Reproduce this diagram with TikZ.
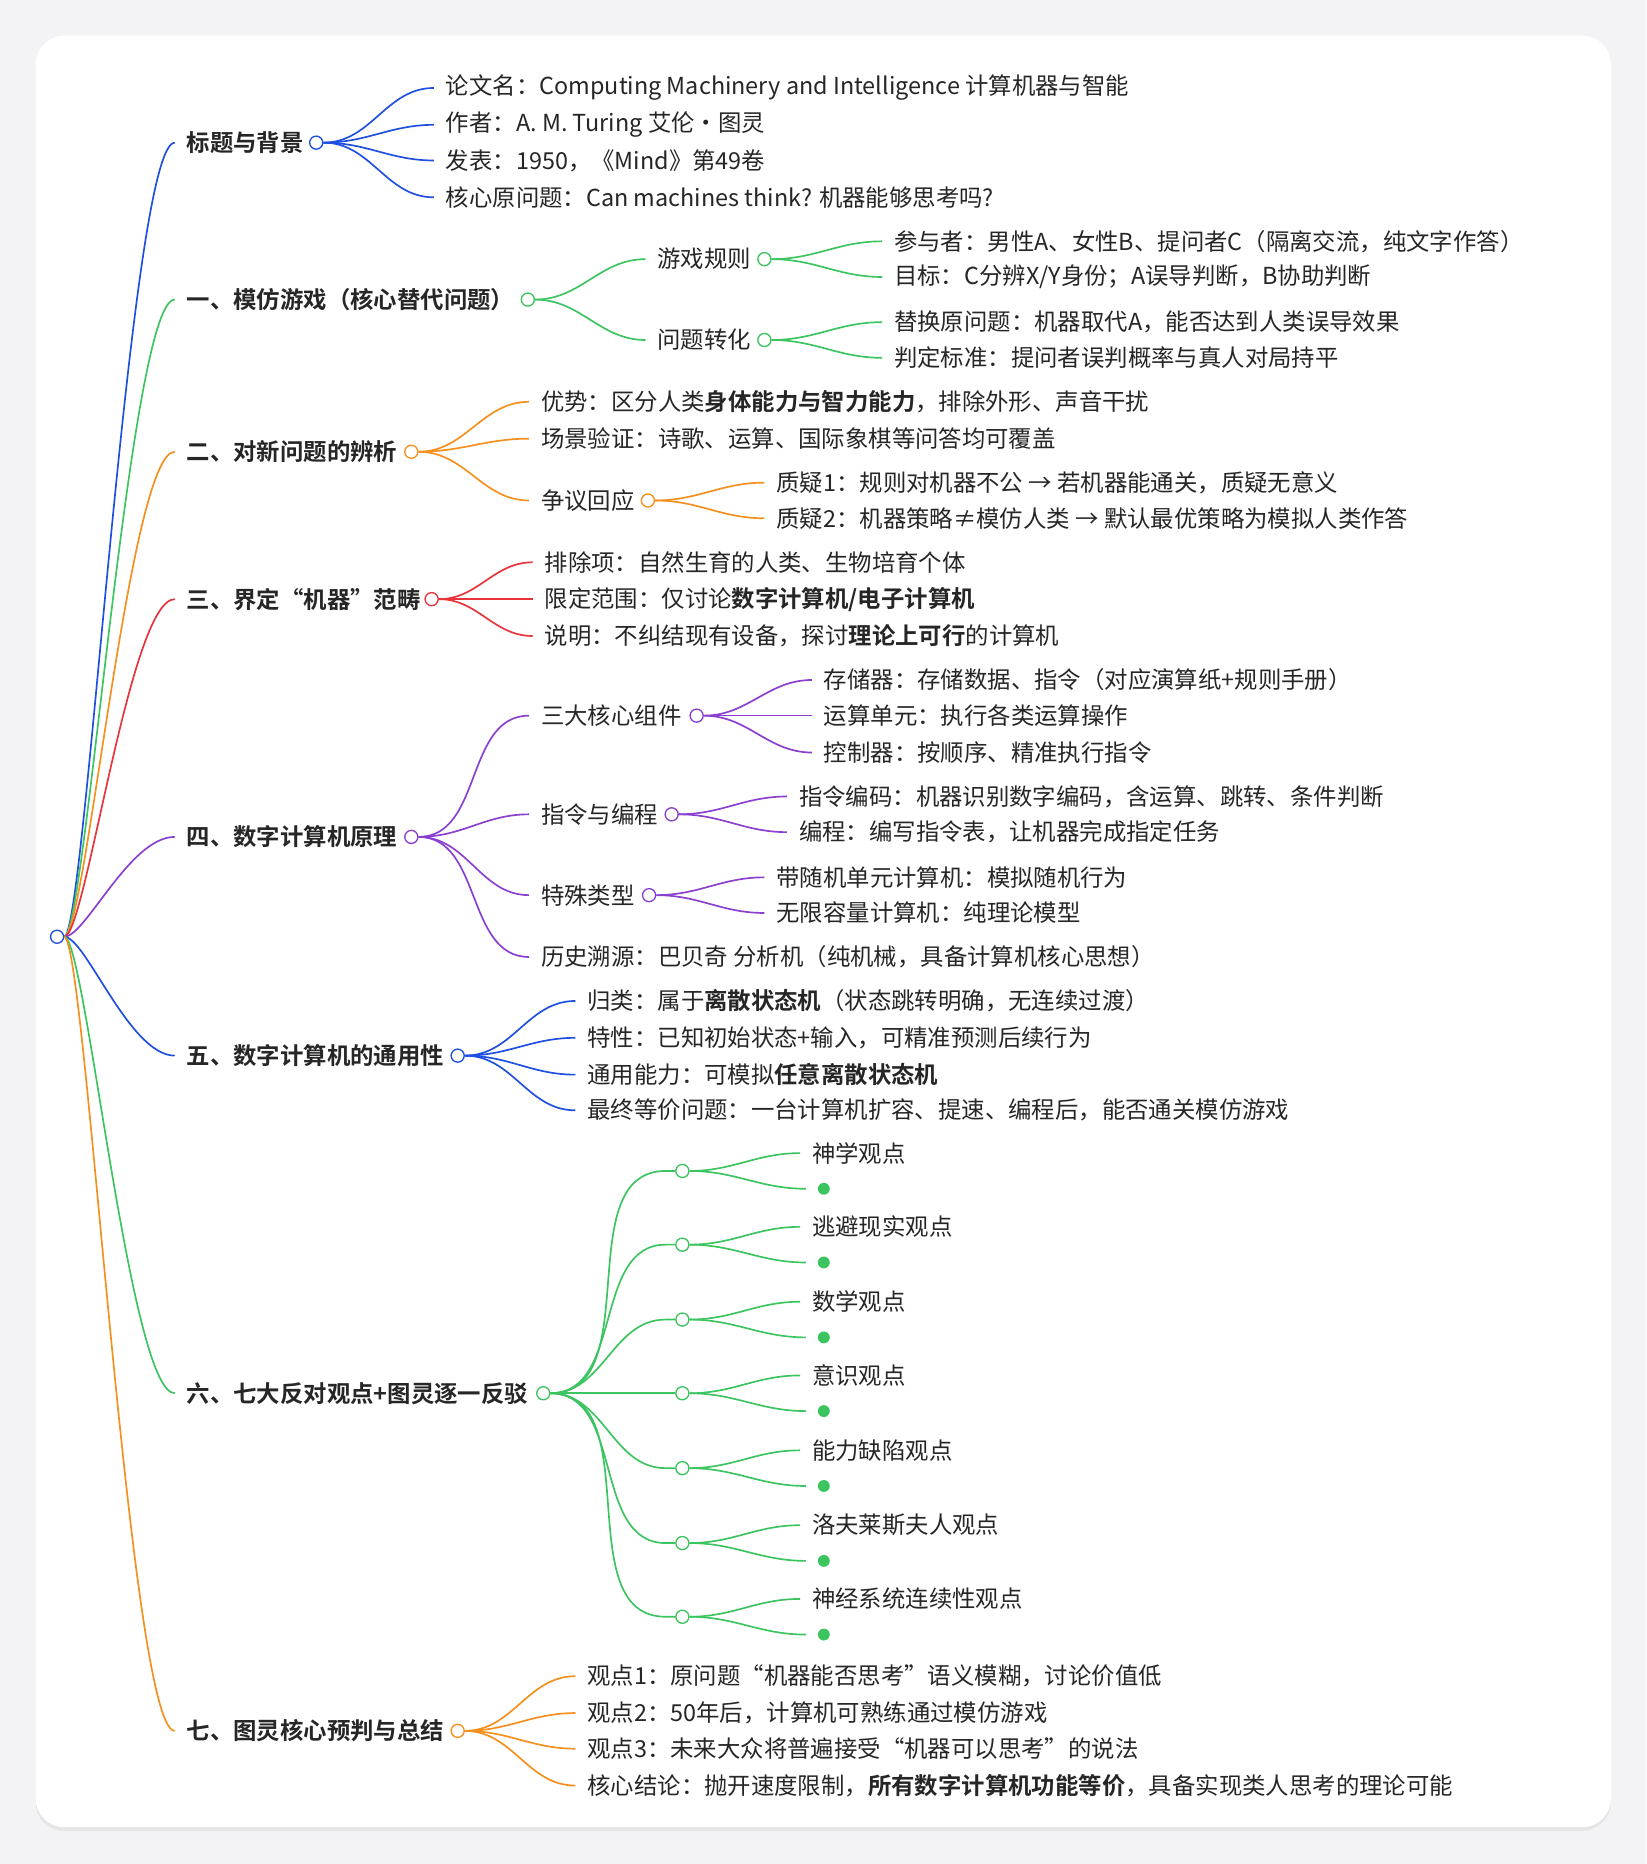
\documentclass[tikz,border=0pt]{standalone}
\usepackage{fontspec}
\setmainfont{Noto Sans CJK SC}[BoldFont={Noto Sans CJK SC Bold}]
\usetikzlibrary{shadows,calc}
\definecolor{cb}{HTML}{1F4FE0}
\definecolor{cg}{HTML}{3CC460}
\definecolor{co}{HTML}{F5901E}
\definecolor{cr}{HTML}{E8333A}
\definecolor{cp}{HTML}{8A3FD1}
\definecolor{bg}{HTML}{F3F3F5}
\newcommand\lf[5]{\node[txt] (#1) at (#4) {#5};
  \draw[con,#2] (#3.east) to[out=0,in=180] ([xshift=-0.5cm]#1.west);}
\newcommand\dotc[4]{\node[dotn,draw=#2] (#1) at (#4) {};
  \draw[con,#2] (#3.east) to[out=0,in=180] ([xshift=-0.4cm]#1.west) -- (#1.west);}
\begin{document}
\begin{tikzpicture}[x=0.05cm,y=-0.05cm,
  txt/.style={anchor=west,inner sep=0pt,font=\fontsize{28}{32}\selectfont,text=black!85},
  l1/.style={txt,font=\fontsize{28}{32}\selectfont\bfseries},
  con/.style={line width=2pt},
  dotn/.style={circle,draw,fill=white,line width=1.6pt,minimum size=0.55cm,inner sep=0pt},
  gdot/.style={circle,fill=cg,minimum size=0.5cm,inner sep=0pt}]
\useasboundingbox (0,0) rectangle (1385,1568);
\fill[bg] (0,0) rectangle (1385,1568);
\fill[white,rounded corners=1.2cm,drop shadow={shadow xshift=0cm,shadow yshift=-0.15cm,opacity=0.12}] (30,30) rectangle (1355,1537);
\node[dotn,draw=cb] (root) at (48,788) {};
% L1
\node[l1] (a) at (157,120) {标题与背景};
\node[l1] (b) at (157,252) {一、模仿游戏（核心替代问题）};
\node[l1] (c) at (157,380) {二、对新问题的辨析};
\node[l1] (d) at (157,504) {三、界定“机器”范畴};
\node[l1] (e) at (157,704) {四、数字计算机原理};
\node[l1] (f) at (157,888) {五、数字计算机的通用性};
\node[l1] (g) at (157,1172) {六、七大反对观点+图灵逐一反驳};
\node[l1] (h) at (157,1456) {七、图灵核心预判与总结};
\foreach \n/\c in {a/cb,b/cg,c/co,d/cr,e/cp,f/cb,g/cg,h/co}
  \draw[con,\c] (root.east) .. controls ($(root.east)+(18,0)$) and ($([xshift=-0.5cm]\n.west)+(-38,0)$) .. ([xshift=-0.5cm]\n.west);
\node[dotn,draw=cb] (ac) at (266,120) {};
\node[dotn,draw=cg] (bc) at (444,252) {};
\node[dotn,draw=co] (cc) at (346,380) {};
\node[dotn,draw=cr] (dc) at ($(d.east)+(9,0)$) {};
\node[dotn,draw=cp] (ec) at (346,704) {};
\node[dotn,draw=cb] (fc) at (385,888) {};
\node[dotn,draw=cg] (gc) at (457,1172) {};
\node[dotn,draw=co] (hc) at (385,1456) {};
% 1
\lf{a1}{cb}{ac}{375,74}{论文名：Computing Machinery and Intelligence 计算机器与智能}
\lf{a2}{cb}{ac}{375,105}{作者：A. M. Turing 艾伦·图灵}
\lf{a3}{cb}{ac}{375,135}{发表：1950，《Mind》第49卷}
\lf{a4}{cb}{ac}{375,166}{核心原问题：Can machines think? 机器能够思考吗?}
% 2
\lf{b1}{cg}{bc}{553,218}{游戏规则}
\lf{b2}{cg}{bc}{553,286}{问题转化}
\node[dotn,draw=cg] (b1c) at (643,218) {};
\node[dotn,draw=cg] (b2c) at (643,286) {};
\lf{b11}{cg}{b1c}{752,203}{参与者：男性A、女性B、提问者C（隔离交流，纯文字作答）}
\lf{b12}{cg}{b1c}{752,233}{目标：C分辨X/Y身份；A误导判断，B协助判断}
\lf{b21}{cg}{b2c}{752,271}{替换原问题：机器取代A，能否达到人类误导效果}
\lf{b22}{cg}{b2c}{752,301}{判定标准：提问者误判概率与真人对局持平}
% 3
\lf{c1}{co}{cc}{455,338}{优势：区分人类\textbf{身体能力与智力能力}，排除外形、声音干扰}
\lf{c2}{co}{cc}{455,369}{场景验证：诗歌、运算、国际象棋等问答均可覆盖}
\lf{c3}{co}{cc}{455,421}{争议回应}
\node[dotn,draw=co] (c3c) at (545,421) {};
\lf{c31}{co}{c3c}{653,406}{质疑1：规则对机器不公 → 若机器能通关，质疑无意义}
\lf{c32}{co}{c3c}{653,436}{质疑2：机器策略≠模仿人类 → 默认最优策略为模拟人类作答}
% 4
\lf{d1}{cr}{dc}{458,473}{排除项：自然生育的人类、生物培育个体}
\lf{d2}{cr}{dc}{458,504}{限定范围：仅讨论\textbf{数字计算机/电子计算机}}
\lf{d3}{cr}{dc}{458,535}{说明：不纠结现有设备，探讨\textbf{理论上可行}的计算机}
% 5
\lf{e1}{cp}{ec}{455,602}{三大核心组件}
\lf{e2}{cp}{ec}{455,685}{指令与编程}
\lf{e3}{cp}{ec}{455,753}{特殊类型}
\lf{e4}{cp}{ec}{455,805}{历史溯源：巴贝奇 分析机（纯机械，具备计算机核心思想）}
\node[dotn,draw=cp] (e1c) at (586,602) {};
\node[dotn,draw=cp] (e2c) at (565,685) {};
\node[dotn,draw=cp] (e3c) at (546,753) {};
\lf{e11}{cp}{e1c}{693,572}{存储器：存储数据、指令（对应演算纸+规则手册）}
\lf{e12}{cp}{e1c}{693,602}{运算单元：执行各类运算操作}
\lf{e13}{cp}{e1c}{693,633}{控制器：按顺序、精准执行指令}
\lf{e21}{cp}{e2c}{672,670}{指令编码：机器识别数字编码，含运算、跳转、条件判断}
\lf{e22}{cp}{e2c}{672,700}{编程：编写指令表，让机器完成指定任务}
\lf{e31}{cp}{e3c}{653,738}{带随机单元计算机：模拟随机行为}
\lf{e32}{cp}{e3c}{653,768}{无限容量计算机：纯理论模型}
% 6
\lf{f1}{cb}{fc}{494,842}{归类：属于\textbf{离散状态机}（状态跳转明确，无连续过渡）}
\lf{f2}{cb}{fc}{494,873}{特性：已知初始状态+输入，可精准预测后续行为}
\lf{f3}{cb}{fc}{494,904}{通用能力：可模拟\textbf{任意离散状态机}}
\lf{f4}{cb}{fc}{494,934}{最终等价问题：一台计算机扩容、提速、编程后，能否通关模仿游戏}
% 7
\foreach \i/\y/\t in {1/985/神学观点,2/1047/逃避现实观点,3/1110/数学观点,4/1172/意识观点,5/1235/能力缺陷观点,6/1298/洛夫莱斯夫人观点,7/1360/神经系统连续性观点}{
  \dotc{g\i}{cg}{gc}{574,\y}
  \lf{g\i t}{cg}{g\i}{683,\y-15}{\t}
  \node[gdot] (g\i d) at (693,\y+15) {};
  \draw[con,cg] (g\i.east) to[out=0,in=180] ([xshift=-0.5cm]g\i d.west);
}
% 8
\lf{h1}{co}{hc}{494,1410}{观点1：原问题“机器能否思考”语义模糊，讨论价值低}
\lf{h2}{co}{hc}{494,1441}{观点2：50年后，计算机可熟练通过模仿游戏}
\lf{h3}{co}{hc}{494,1471}{观点3：未来大众将普遍接受“机器可以思考”的说法}
\lf{h4}{co}{hc}{494,1502}{核心结论：抛开速度限制，\textbf{所有数字计算机功能等价}，具备实现类人思考的理论可能}
\end{tikzpicture}
\end{document}
